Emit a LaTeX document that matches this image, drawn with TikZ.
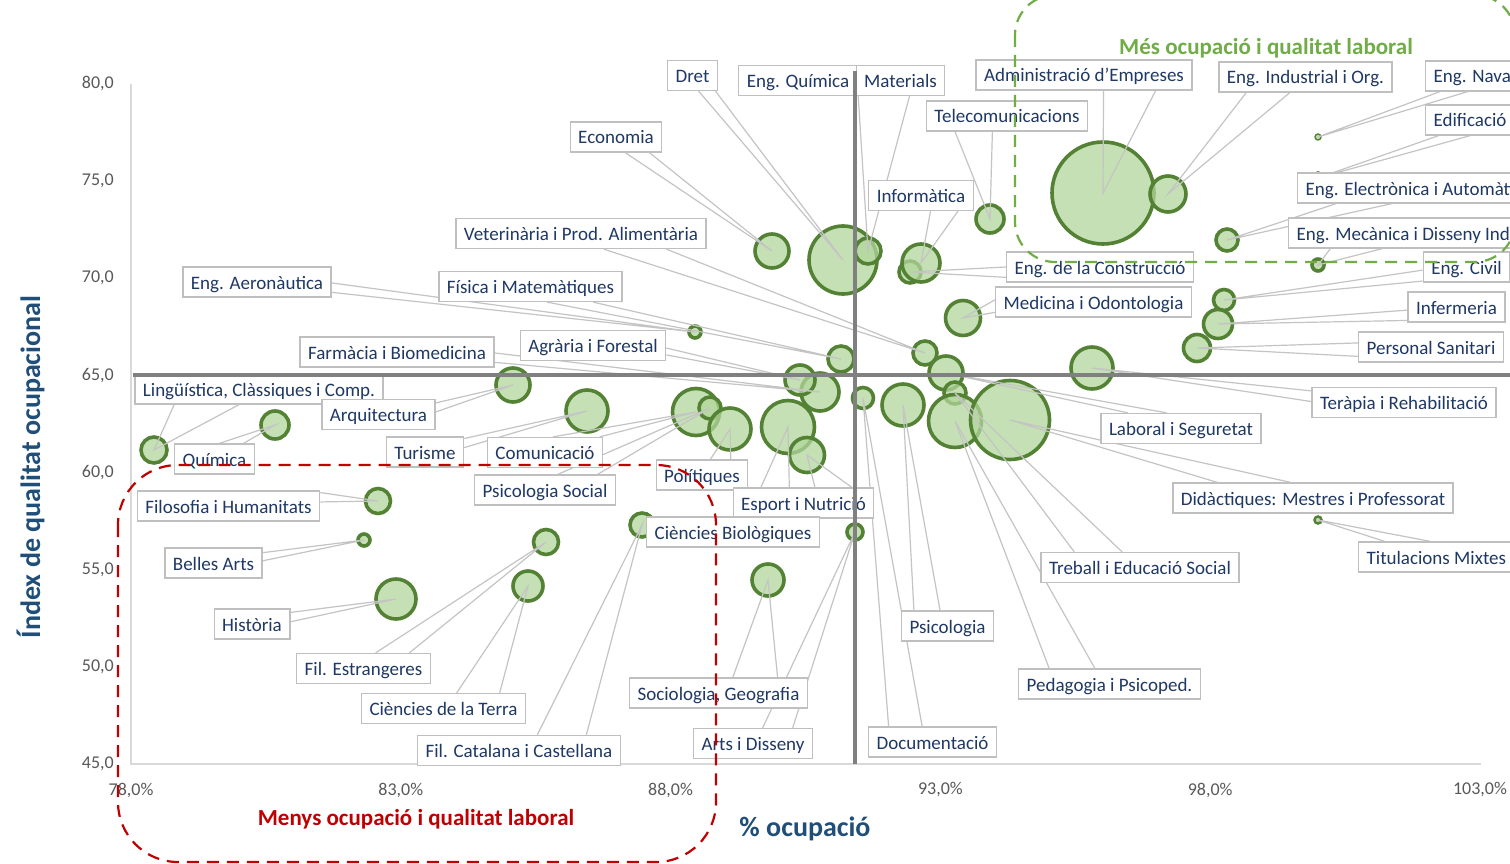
\documentclass[tikz,border=0pt]{standalone}
\usepackage{fontspec}
\setmainfont{Carlito}
\usetikzlibrary{calc}
\definecolor{lbltext}{HTML}{1F3864}
\definecolor{lblborder}{HTML}{BFBFBF}
\definecolor{wedgecol}{HTML}{C4C4C4}
\definecolor{bubfill}{HTML}{B2D69B}
\definecolor{bubedge}{HTML}{548235}
\definecolor{axiscol}{HTML}{D9D9D9}
\definecolor{crosscol}{HTML}{808080}
\definecolor{tickcol}{HTML}{595959}
\definecolor{titlecol}{HTML}{1F4E79}
\definecolor{goodgreen}{HTML}{70AD47}
\definecolor{badred}{HTML}{C00000}
\pgfdeclarelayer{bg}\pgfdeclarelayer{fg}\pgfsetlayers{bg,main,fg}
\tikzset{
 lbl/.style={draw=lblborder, line width=1.3pt, fill=white, text=lbltext,
   font=\fontsize{19}{22}\selectfont, inner xsep=8pt, inner ysep=5pt,
   text height=17pt, text depth=3pt},
 bubble/.style={circle, draw=bubedge, line width=3.6pt, fill=bubfill,
   fill opacity=0.75, draw opacity=1, inner sep=0pt},
 wdg/.style={draw=wedgecol, line width=1.2pt},
 ticklbl/.style={text=tickcol, font=\fontsize{18}{20}\selectfont, inner sep=0pt},
 axisline/.style={draw=axiscol, line width=1.5pt},
 crossline/.style={draw=crosscol, line width=3.6pt},
 axistitle/.style={text=titlecol, font=\bfseries\fontsize{28}{30}\selectfont, inner sep=0pt},
 regiontitle/.style={font=\bfseries\fontsize{23}{26}\selectfont, inner sep=0pt},
 regionline/.style={line width=2.2pt, dash pattern=on 12pt off 8pt}
}
\newcommand\mybub[5][]{\node[bubble,minimum size=#5pt,#1] (#2) at (#3,#4) {};}
\newcommand\mylab[5][center]{\node[lbl,anchor=#1] (#2) at (#3,#4) {#5};}
\newcommand\coS[4]{\draw[wdg] ($(#1.south west)!#2!(#1.south east)$) -- (#4.center) -- ($(#1.south west)!#3!(#1.south east)$);}
\newcommand\coN[4]{\draw[wdg] ($(#1.north west)!#2!(#1.north east)$) -- (#4.center) -- ($(#1.north west)!#3!(#1.north east)$);}
\newcommand\coW[4]{\draw[wdg] ($(#1.north west)!#2!(#1.south west)$) -- (#4.center) -- ($(#1.north west)!#3!(#1.south west)$);}
\newcommand\coE[4]{\draw[wdg] ($(#1.north east)!#2!(#1.south east)$) -- (#4.center) -- ($(#1.north east)!#3!(#1.south east)$);}
\begin{document}
\begin{tikzpicture}[x=1pt,y=-1pt]
\useasboundingbox (0,0) rectangle (1510,864);

% ---------- labels (main layer) ----------
\mylab{lDret}{692.5}{75.5}{Dret}
\mylab{lEngQ}{798}{80.5}{Eng. Química}
\mylab{lMat}{900.5}{80.5}{Materials}
\mylab{lAdm}{1084}{75}{Administració d\char39 Empreses}
\mylab{lInd}{1305.5}{77}{Eng. Industrial i Org.}
\mylab[west]{lNav}{1425}{76}{Eng. Naval}
\mylab[west]{lEdi}{1425}{120}{Edificació}
\mylab{lEcon}{616}{137}{Economia}
\mylab{lTel}{1007}{116}{Telecomunicacions}
\mylab{lInf}{921}{195.5}{Informàtica}
\mylab[west]{lElec}{1297}{188}{Eng. Electrònica i Automàtica}
\mylab{lVet}{581}{233.5}{Veterinària i Prod. Alimentària}
\mylab[west]{lMec}{1288}{233}{Eng. Mecànica i Disseny Ind.}
\mylab{lCons}{1100}{267}{Eng. de la Construcció}
\mylab{lCivil}{1466.5}{267}{Eng. Civil}
\mylab{lAero}{257}{282}{Eng. Aeronàutica}
\mylab{lFis}{530.5}{286.5}{Física i Matemàtiques}
\mylab{lMed}{1093.5}{302}{Medicina i Odontologia}
\mylab{lInfer}{1456.5}{307}{Infermeria}
\mylab{lFar}{397}{352}{Farmàcia i Biomedicina}
\mylab{lAgr}{593}{345.5}{Agrària i Forestal}
\mylab{lPers}{1431}{347}{Personal Sanitari}
\mylab{lLing}{259}{389}{Lingüística, Clàssiques i Comp.}
\mylab{lArq}{378.5}{414.5}{Arquitectura}
\mylab{lTer}{1404}{402.5}{Teràpia i Rehabilitació}
\mylab{lLab}{1181}{428.5}{Laboral i Seguretat}
\mylab{lQuim}{214.5}{459}{Química}
\mylab{lTur}{425}{452}{Turisme}
\mylab{lCom}{545}{452.5}{Comunicació}
\mylab{lPol}{702}{475}{Polítiques}
\mylab{lDid}{1313}{498}{Didàctiques: Mestres i Professorat}
\mylab{lFilo}{228.5}{506}{Filosofia i Humanitats}
\mylab{lPsiS}{545}{490}{Psicologia Social}
\mylab{lEsp}{803.5}{503}{Esport i Nutrició}
\mylab{lBio}{733}{532}{Ciències Biològiques}
\mylab[west]{lTit}{1358}{557}{Titulacions Mixtes}
\mylab{lBell}{213.5}{563}{Belles Arts}
\mylab{lTreb}{1140}{567.5}{Treball i Educació Social}
\mylab{lHist}{252}{624}{Història}
\mylab{lPsi}{947.5}{626}{Psicologia}
\mylab{lEstr}{363.5}{668.5}{Fil. Estrangeres}
\mylab{lSoc}{718.5}{693}{Sociologia, Geografia}
\mylab{lPed}{1109.5}{684}{Pedagogia i Psicoped.}
\mylab{lTerra}{443.5}{708.5}{Ciències de la Terra}
\mylab{lArts}{753}{743.5}{Arts i Disseny}
\mylab{lDoc}{932.5}{742}{Documentació}
\mylab{lCat}{519}{750.5}{Fil. Catalana i Castellana}

% ---------- tick labels ----------
\node[ticklbl,anchor=east] (y80) at (114,84) {80,0};
\node[ticklbl,anchor=east] (y75) at (114,181.1) {75,0};
\node[ticklbl,anchor=east] (y70) at (114,278.3) {70,0};
\node[ticklbl,anchor=east] (y65) at (114,375.4) {65,0};
\node[ticklbl,anchor=east] (y60) at (114,472.6) {60,0};
\node[ticklbl,anchor=east] (y55) at (114,569.7) {55,0};
\node[ticklbl,anchor=east] (y50) at (114,666.9) {50,0};
\node[ticklbl,anchor=east] (y45) at (114,764) {45,0};
\node[ticklbl] (x78) at (131,790) {78,0\%};
\node[ticklbl] (x83) at (400.8,790) {83,0\%};
\node[ticklbl] (x88) at (670.6,790) {88,0\%};
\node[ticklbl] (x93) at (940.4,790) {93,0\%};
\node[ticklbl] (x98) at (1210.2,790) {98,0\%};
\node[ticklbl] (x103) at (1480,790) {103,0\%};

% ---------- background: axes, bubbles, callout wedges ----------
\begin{pgfonlayer}{bg}
\fill[white] (0,0) rectangle (1510,864);
\coordinate (ytop) at (131,84);
\coordinate (orig) at (131,764);
\coordinate (xend) at (1481,764);
\draw[axisline] (ytop) -- (orig) -- (xend);

\mybub{bLing}{154}{450}{26}
\mybub{bQuim}{275}{425}{28}
\mybub{bArq}{513}{385}{34}
\mybub{bTur}{587}{411}{42}
\mybub{bCom}{696}{412}{47}
\mybub{bPsiS}{710}{408}{22}
\mybub{bPol}{730}{429}{42}
\mybub{bAero}{695}{332}{12}
\mybub{bEcon}{772}{251}{34}
\mybub{bDret}{843}{260}{68}
\mybub{bMat}{868}{251}{26}
\mybub{bCons}{910}{272}{22}
\mybub{bInf}{921}{263}{38}
\mybub{bTel}{990}{219}{28}
\mybub{bAdm}{1103}{193}{102}
\mybub{bInd}{1168}{194}{36}
\mybub[line width=1.4pt]{bNav}{1318}{137}{6}
\mybub{bEdi}{1318}{178}{10}
\mybub{bElec}{1227}{240}{22}
\mybub{bMec}{1318}{265}{12}
\mybub{bCivil}{1224}{300}{21}
\mybub{bInfer}{1218}{324}{29}
\mybub{bPers}{1197}{348}{27}
\mybub{bTer}{1092}{368}{42}
\mybub{bMed}{963}{318}{35}
\mybub{bVet}{925}{353}{24}
\mybub{bLab}{946}{373}{34}
\mybub{bTreb}{955}{393}{22}
\mybub{bPed}{955}{421}{53}
\mybub{bDid}{1010}{420}{79}
\mybub{bPsi}{903}{405}{42}
\mybub{bDoc}{863}{398}{21}
\mybub{bFis}{841}{359}{26}
\mybub{bFar}{820}{392}{38}
\mybub{bAgr}{800}{380}{30}
\mybub{bEspA}{788}{427}{53}
\mybub{bEspB}{807}{455}{35}
\mybub{bArts}{855}{532}{16}
\mybub{bSoc}{768}{580}{32}
\mybub{bCat}{642}{525}{24}
\mybub{bFilo}{378}{501}{25}
\mybub{bBell}{364}{540}{12}
\mybub{bHist}{396}{599}{40}
\mybub{bEstr}{546}{542}{25}
\mybub{bTerra}{528}{586}{30}
\mybub[line width=2.5pt]{bTit}{1318}{520}{7}

\coS{lDret}{.62}{.95}{bDret}
\coS{lMat}{.03}{.6}{bMat}
\coS{lAdm}{.59}{.83}{bAdm}
\coS{lInd}{.16}{.41}{bInd}
\coS{lNav}{.15}{.43}{bNav}
\coS{lEdi}{.15}{.5}{bEdi}
\coS{lEcon}{.6}{.86}{bEcon}
\coS{lTel}{.18}{.41}{bTel}
\coS{lInf}{.59}{.85}{bInf}
\coS{lElec}{.16}{.39}{bElec}
\coS{lVet}{.59}{.84}{bVet}
\coS{lMec}{.18}{.4}{bMec}
\coW{lCons}{.5}{.83}{bCons}
\coW{lCivil}{.6}{.95}{bCivil}
\coE{lAero}{.53}{.83}{bAero}
\coS{lFis}{.59}{.84}{bFis}
\coW{lMed}{.43}{.83}{bMed}
\coW{lInfer}{.6}{.93}{bInfer}
\coE{lFar}{.53}{.83}{bFar}
\coE{lAgr}{.58}{.8}{bAgr}
\coW{lPers}{.37}{.8}{bPers}
\coS{lLing}{.16}{.42}{bLing}
\coE{lArq}{.13}{.42}{bArq}
\coW{lTer}{.13}{.47}{bTer}
\coN{lLab}{.17}{.41}{bLab}
\coN{lQuim}{.56}{.86}{bQuim}
\coE{lTur}{.07}{.36}{bTur}
\coN{lCom}{.57}{.97}{bCom}
\coN{lPol}{.59}{.81}{bPol}
\coN{lDid}{.16}{.42}{bDid}
\coE{lFilo}{.07}{.37}{bFilo}
\coN{lPsiS}{.59}{.87}{bPsiS}
\coN{lEsp}{.2}{.4}{bEspA}
\coN{lEsp}{.58}{.84}{bEspB}
\coN{lTit}{.17}{.46}{bTit}
\coE{lBell}{.17}{.43}{bBell}
\coN{lTreb}{.17}{.41}{bTreb}
\coE{lHist}{.13}{.43}{bHist}
\coN{lPsi}{.14}{.42}{bPsi}
\coN{lEstr}{.59}{.84}{bEstr}
\coN{lSoc}{.58}{.83}{bSoc}
\coN{lPed}{.17}{.42}{bPed}
\coN{lTerra}{.58}{.84}{bTerra}
\coN{lArts}{.58}{.83}{bArts}
\coN{lDoc}{.16}{.42}{bDoc}
\coN{lCat}{.59}{.83}{bCat}
\end{pgfonlayer}

% ---------- foreground: crosshair, regions, titles ----------
\begin{pgfonlayer}{fg}
\coordinate (vtop) at (855,71);
\coordinate (vbot) at (855,764);
\coordinate (hleft) at (133,375);
\coordinate (hright) at (1510,375);
\draw[crossline] (vtop) -- (vbot);
\draw[crossline] (hleft) -- (hright);

\draw[regionline, draw=goodgreen, rounded corners=40pt] (1015,-5) rectangle (1515,262);
\draw[regionline, draw=badred, rounded corners=60pt] (118,465) rectangle (716,862);

\node[regiontitle, text=goodgreen, anchor=base] (tgood) at (1266,55) {Més ocupació i qualitat laboral};
\node[regiontitle, text=badred, anchor=base] (tbad) at (416,825) {Menys ocupació i qualitat laboral};

\node[axistitle, anchor=base] (xtitle) at (805,836) {\% ocupació};
\node[axistitle, rotate=90, anchor=base] (ytitle) at (40,467) {Índex de qualitat ocupacional};
\end{pgfonlayer}
\end{tikzpicture}
\end{document}
